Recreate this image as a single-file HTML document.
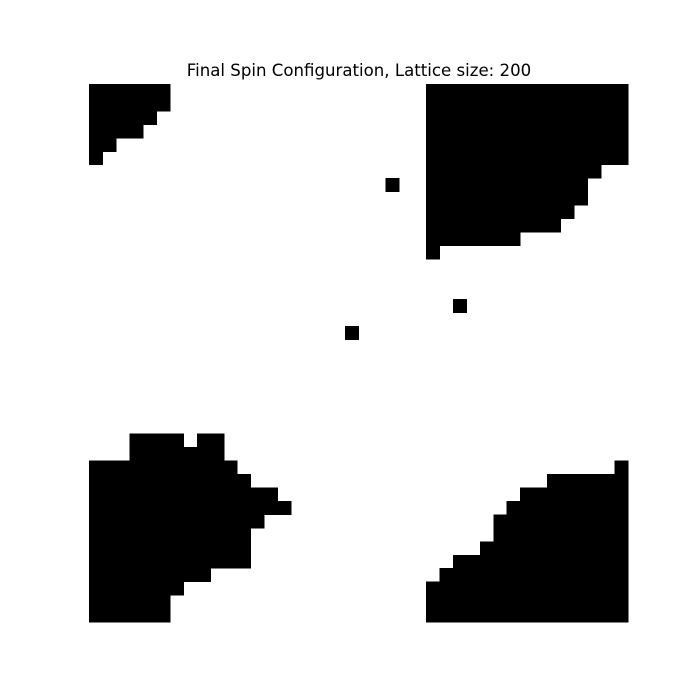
<!DOCTYPE html>
<html>
<head>
<meta charset="utf-8">
<style>
  html,body{margin:0;padding:0;background:#fff;}
  body{width:700px;height:700px;overflow:hidden;}
  svg{display:block;}
</style>
</head>
<body>
<svg id="chart" width="700" height="700" viewBox="0 0 700 700">
  <rect x="0" y="0" width="700" height="700" fill="#ffffff"></rect>
  <text x="359" y="76" text-anchor="middle" font-family="'DejaVu Sans','Liberation Sans',sans-serif" font-size="16.6" fill="#000">Final Spin Configuration, Lattice size: 200</text>
  <g id="lattice" shape-rendering="crispEdges"></g>
</svg>
<script>
// Coarse 40x40 view of the 200x200 lattice: each entry = [row, firstCol, lastCol] of spin-down (black) cells
const gridSize = 40;
const blackRuns = [
  [0,0,5],[1,0,5],[2,0,4],[3,0,3],[4,0,1],[5,0,0],
  [0,25,39],[1,25,39],[2,25,39],[3,25,39],[4,25,39],[5,25,39],
  [6,25,37],[7,25,36],[8,25,36],[9,25,35],[10,25,34],[11,25,31],
  [12,25,25],[16,27,27],[18,19,19],[7,22,22],
  [26,3,6],[26,8,9],[27,3,9],[28,0,10],[29,0,11],[30,0,13],[31,0,14],[32,0,12],
  [33,0,11],[34,0,11],[35,0,11],[36,0,8],[37,0,6],[38,0,5],[39,0,5],
  [28,39,39],[29,34,39],[30,32,39],[31,31,39],[32,30,39],[33,30,39],
  [34,29,39],[35,27,39],[36,26,39],[37,25,39],[38,25,39],[39,25,39]
];

const plotLeft = 89, plotTop = 84, plotW = 539, plotH = 538;
function xScale(col){ return plotLeft + col * plotW / gridSize; }
function yScale(row){ return plotTop + row * plotH / gridSize; }

const g = document.getElementById('lattice');
const NS = 'http://www.w3.org/2000/svg';
blackRuns.forEach(function(run){
  const r = run[0], c0 = run[1], c1 = run[2];
  const x0 = xScale(c0), x1 = xScale(c1 + 1);
  const y0 = yScale(r), y1 = yScale(r + 1);
  const rect = document.createElementNS(NS, 'rect');
  rect.setAttribute('x', x0.toFixed(2));
  rect.setAttribute('y', y0.toFixed(2));
  rect.setAttribute('width', (x1 - x0 + 0.5).toFixed(2));
  rect.setAttribute('height', (y1 - y0 + 0.5).toFixed(2));
  rect.setAttribute('fill', '#000');
  
  
  g.appendChild(rect);
});
</script>
</body>
</html>
